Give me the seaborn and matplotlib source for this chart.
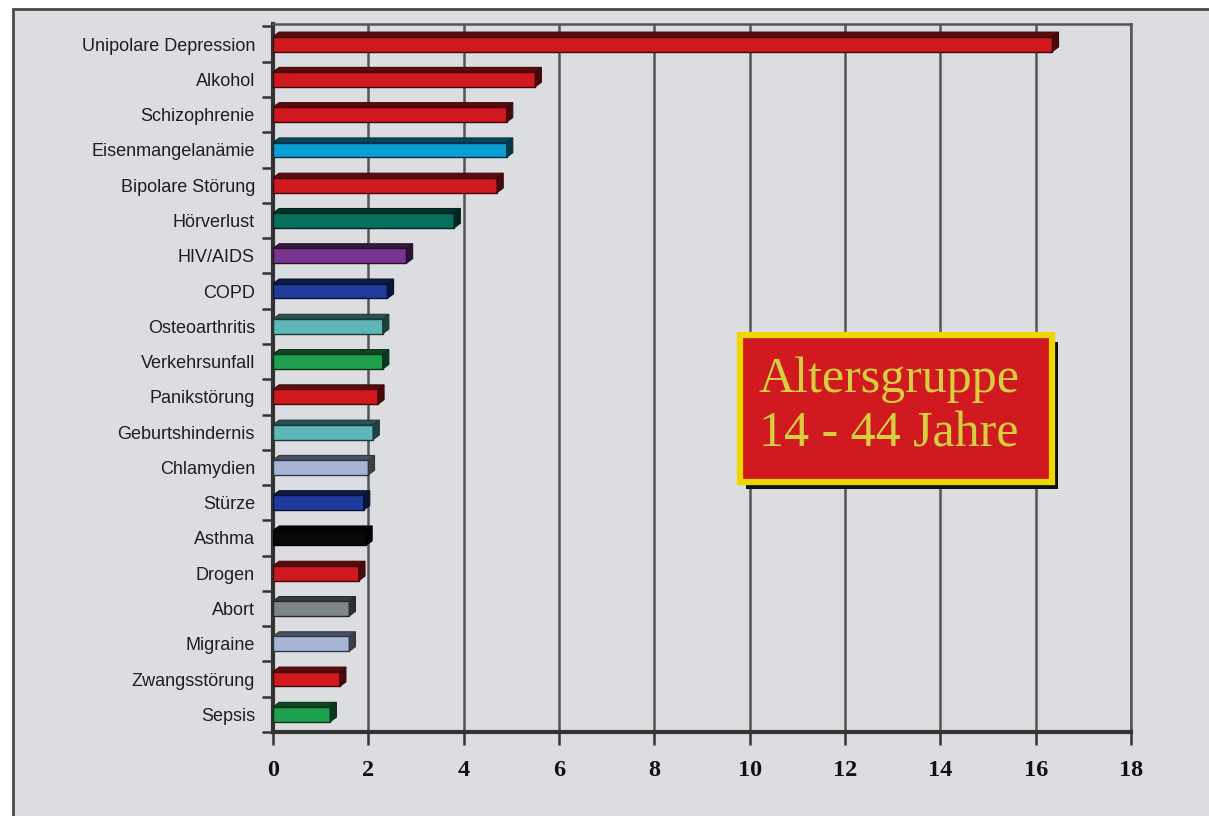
import matplotlib
matplotlib.use("Agg")
import matplotlib.pyplot as plt
import matplotlib.colors as mcolors
from matplotlib.patches import Polygon, Rectangle
import numpy as np
import pandas as pd
import seaborn as sns

# Data
categories = [
    "Unipolare Depression", "Alkohol", "Schizophrenie", "Eisenmangelanämie",
    "Bipolare Störung", "Hörverlust", "HIV/AIDS", "COPD", "Osteoarthritis",
    "Verkehrsunfall", "Panikstörung", "Geburtshindernis", "Chlamydien",
    "Stürze", "Asthma", "Drogen", "Abort", "Migraine", "Zwangsstörung", "Sepsis",
]
values = [16.35, 5.5, 4.9, 4.9, 4.7, 3.8, 2.8, 2.4, 2.3, 2.3,
          2.2, 2.1, 2.0, 1.9, 1.95, 1.8, 1.6, 1.6, 1.4, 1.2]
bar_colors = [
    "#d0181f", "#d0181f", "#d0181f", "#0aa0d4", "#d0181f", "#06705e",
    "#7a3590", "#1f3c9c", "#5fb6b8", "#1fa04e", "#d0181f", "#5fb6b8",
    "#a5b5d6", "#1f3c9c", "#080808", "#d0181f", "#7e8688", "#a5b5d6",
    "#d0181f", "#1fa04e",
]
x_ticks = list(range(0, 19, 2))
box_text = "Altersgruppe\n14 - 44 Jahre"


def darken(color, factor):
    r, g, b = mcolors.to_rgb(color)
    return (r * factor, g * factor, b * factor)


sns.set_theme(style="white")
plt.rcParams["font.family"] = ["Liberation Sans", "DejaVu Sans"]

bg = "#dcdde0"
W, H = 1209, 816
fig = plt.figure(figsize=(W / 100, H / 100), dpi=100, facecolor="white")
# outer frame of the picture
frame = Rectangle((13 / W, -0.01), 1.0, 1 - 9 / H + 0.01,
                  transform=fig.transFigure, facecolor=bg,
                  edgecolor="#4a4a4a", lw=2.0, zorder=-10)
fig.patches.append(frame)

ax = fig.add_axes([273 / W, 1 - 732 / H, 858 / W, 708 / H])
ax.set_zorder(5)
ax.set_facecolor(bg)

df = pd.DataFrame({"Ursache": categories, "Wert": values})
sns.barplot(data=df, x="Wert", y="Ursache", hue="Ursache", palette=bar_colors,
            legend=False, orient="h", width=0.42, saturation=1, ax=ax, zorder=3)

# fake 3D: darker top face and end cap on every bar
dx, dy = 0.13, 0.13
bars = list(ax.patches)
for patch, col in zip(bars, bar_colors):
    x0, y0 = patch.get_x(), patch.get_y()
    w, h = patch.get_width(), patch.get_height()
    edge = darken(col, 0.3)
    patch.set_edgecolor(edge)
    patch.set_linewidth(1.0)
    top = Polygon([(x0, y0), (x0 + w, y0), (x0 + w + dx, y0 - dy), (x0 + dx, y0 - dy)],
                  closed=True, facecolor=darken(col, 0.45), edgecolor=edge, lw=0.8, zorder=3)
    cap = Polygon([(x0 + w, y0), (x0 + w + dx, y0 - dy), (x0 + w + dx, y0 + h - dy), (x0 + w, y0 + h)],
                  closed=True, facecolor=darken(col, 0.35), edgecolor=edge, lw=0.8, zorder=3)
    ax.add_patch(top)
    ax.add_patch(cap)

ax.set_xlim(0, 18)
ax.set_ylim(len(categories) - 0.52, -0.57)
ax.set_xlabel("")
ax.set_ylabel("")

ax.set_xticks(x_ticks)
ax.set_xticklabels([str(t) for t in x_ticks], fontfamily="Liberation Serif",
                   fontweight="bold", fontsize=17.5, color="#111111")
ax.xaxis.grid(True, color="#555555", lw=1.8, zorder=1)
ax.set_axisbelow(True)
ax.tick_params(axis="x", which="major", length=9, width=1.8, color="#333333",
               direction="out", pad=11, bottom=True)

ax.set_yticks(np.arange(-0.5, len(categories), 1), minor=True)
ax.tick_params(axis="y", which="minor", length=8, width=1.8, color="#333333",
               direction="out", left=True)
ax.tick_params(axis="y", which="major", length=0, pad=13, labelsize=13,
               labelcolor="#1e1e1e")

for side in ["top", "right"]:
    ax.spines[side].set_color("#555555")
    ax.spines[side].set_linewidth(1.8)
for side in ["left", "bottom"]:
    ax.spines[side].set_color("#333333")
    ax.spines[side].set_linewidth(3.0)

# label box
bx, by, bw, bh = 0.544, 0.353, 0.364, 0.208
ax.add_patch(Rectangle((bx + 0.007, by - 0.01), bw, bh, transform=ax.transAxes,
                       facecolor="#111111", edgecolor="none", zorder=5))
ax.add_patch(Rectangle((bx, by), bw, bh, transform=ax.transAxes,
                       facecolor="#d01a20", edgecolor="#ecd800", lw=4.5, zorder=6))
ax.text(bx + bw / 2 - 0.008, by + bh / 2 + 0.002, box_text, transform=ax.transAxes,
        ha="center", va="center", multialignment="left", linespacing=1.2,
        fontsize=36, fontfamily="Liberation Serif", color="#d6d040", zorder=7)

fig.savefig("out.png", dpi=100, facecolor=fig.get_facecolor())
